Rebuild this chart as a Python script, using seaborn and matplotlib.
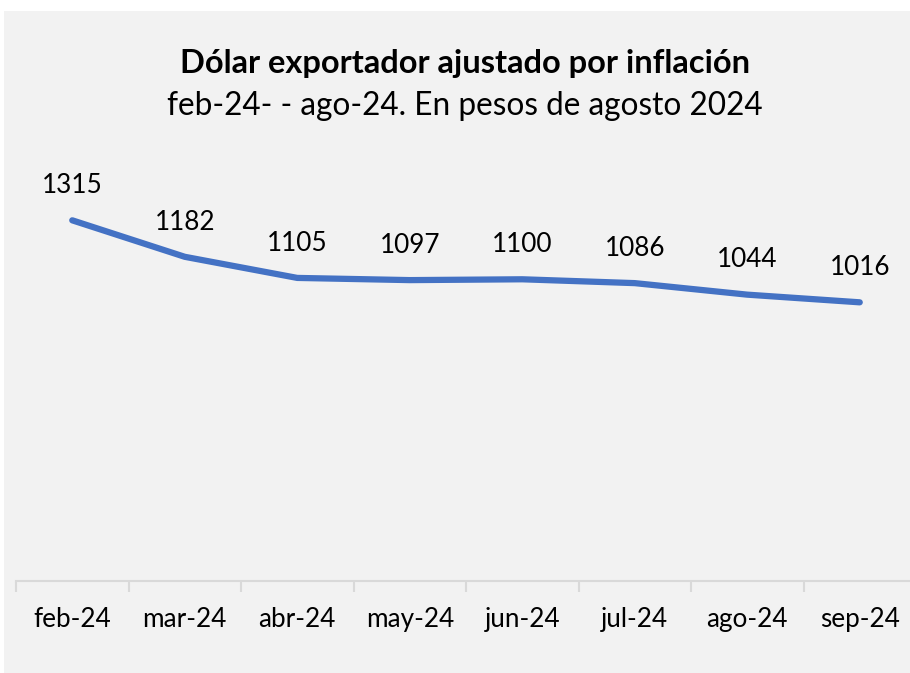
import matplotlib
matplotlib.use("Agg")
import matplotlib.pyplot as plt
import seaborn as sns
import pandas as pd
from matplotlib.patches import Rectangle

# data
months = ["feb-24", "mar-24", "abr-24", "may-24", "jun-24", "jul-24", "ago-24", "sep-24"]
values = [1315, 1182, 1105, 1097, 1100, 1086, 1044, 1016]

df = pd.DataFrame({"mes": months, "valor": values})

sns.set_style("white")
plt.rcParams["font.family"] = ["Lato", "DejaVu Sans"]
plt.rcParams["text.color"] = "black"

fig = plt.figure(figsize=(9.1, 6.73), dpi=100, facecolor="white")
# gray chart area
fig.patches.append(Rectangle((4 / 910, 0), 906 / 910, 662 / 673, transform=fig.transFigure,
                             facecolor="#F2F2F2", edgecolor="none", zorder=-5))

ax = fig.add_axes([16 / 910, 1 - 581 / 673, 900 / 910, (581 - 197) / 673])
ax.set_facecolor("none")
ax.set_zorder(2)

sns.lineplot(data=df, x="mes", y="valor", ax=ax, color="#4472C4", linewidth=4.5,
             sort=False)

ax.set_xlim(-0.5, len(months) - 0.5)
ax.set_ylim(0, 1400)
ax.set_yticks([])
ax.set_xlabel("")
ax.set_ylabel("")

for s in ["top", "right", "left"]:
    ax.spines[s].set_visible(False)
ax.spines["bottom"].set_color("#D9D9D9")
ax.spines["bottom"].set_linewidth(1.5)

# ticks on category boundaries
ax.set_xticks([i - 0.5 for i in range(len(months) + 1)], minor=False)
ax.set_xticklabels([])
ax.tick_params(axis="x", which="major", length=8, width=1.5, color="#D9D9D9", direction="out",
               bottom=True)
ax.set_xticks(range(len(months)), minor=True)
ax.set_xticklabels(months, minor=True, fontsize=18.8, color="black")
ax.tick_params(axis="x", which="minor", length=0, pad=18.5, bottom=True)

for i, v in enumerate(values):
    ax.annotate(str(v), (i, v), xytext=(0, 16), textcoords="offset points",
                ha="center", va="bottom", fontsize=18.8, color="black")

fig.text(465 / 910, 1 - 63 / 673, "Dólar exportador ajustado por inflación",
         ha="center", va="center", fontsize=23.5, fontweight="bold", color="black")
fig.text(465 / 910, 1 - 106 / 673, "feb-24- - ago-24. En pesos de agosto 2024",
         ha="center", va="center", fontsize=22.7, color="black")

fig.savefig("out.png", dpi=100, facecolor="white")
